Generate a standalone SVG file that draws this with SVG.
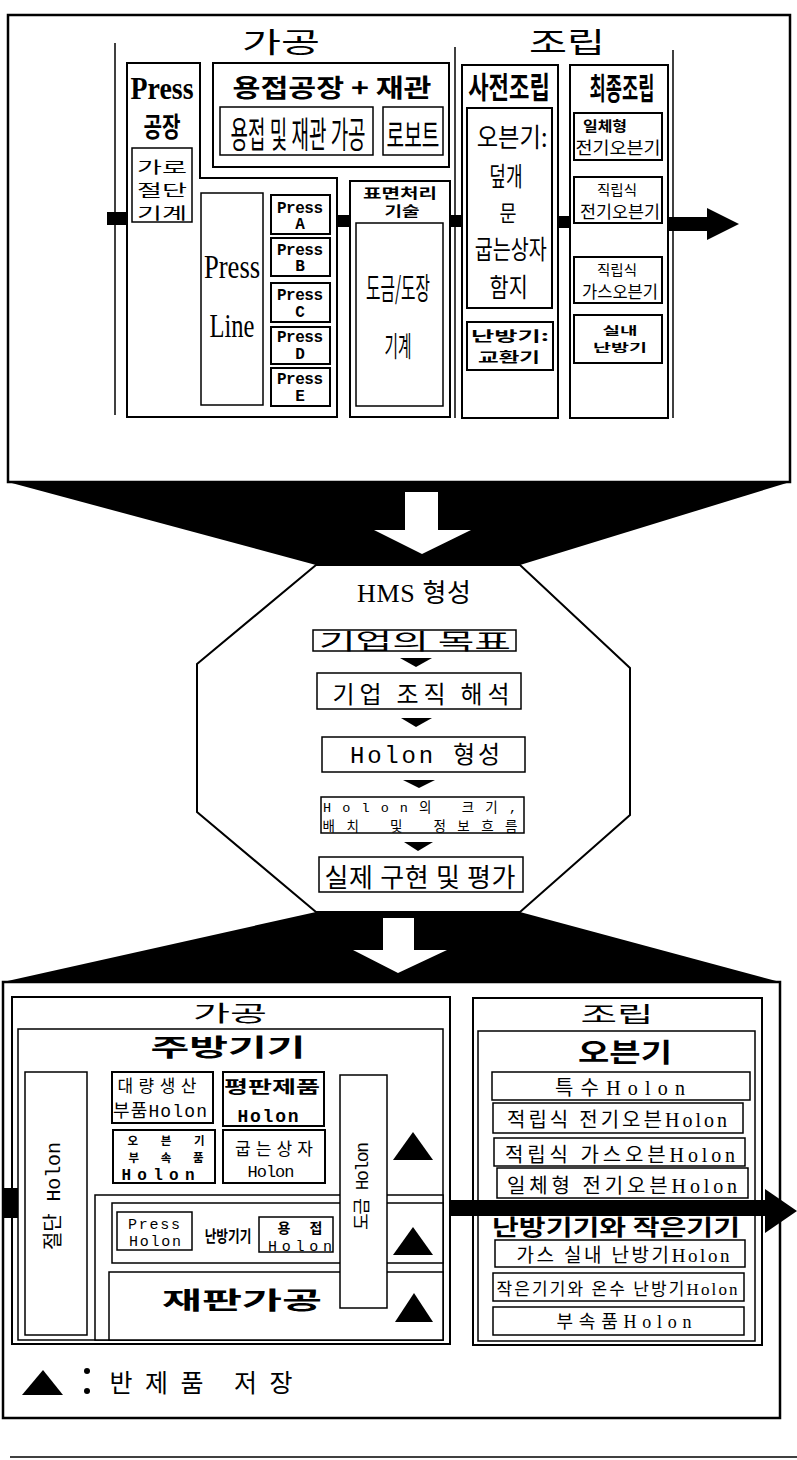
<svg xmlns="http://www.w3.org/2000/svg" width="797" height="1460" viewBox="0 0 797 1460">
<style>
.ob{fill:#fff;stroke:#000;stroke-width:2.5}
.bx{fill:#fff;stroke:#000;stroke-width:2}
.tb{fill:#fff;stroke:#000;stroke-width:1.5}
.ln{fill:none;stroke:#000;stroke-width:1.5}
.f{fill:#000;stroke:none}
.w{fill:#fff;stroke:none}
.k{font-family:"Noto Sans CJK KR",sans-serif;font-weight:normal;fill:#000;text-anchor:middle}
.kb{font-family:"Noto Sans CJK KR",sans-serif;font-weight:bold;fill:#000;text-anchor:middle}
.sf{font-family:"Liberation Serif","Noto Sans CJK KR",serif;font-weight:normal;fill:#000;text-anchor:middle}
.mo{font-family:"Liberation Mono","Noto Sans CJK KR",monospace;font-weight:normal;fill:#000;text-anchor:middle}
.b{font-weight:bold}
</style>

<!-- ================= TOP SECTION ================= -->
<g id="top-frame">
  <rect class="ob" x="8" y="15" width="782" height="467"/>
  <line class="ln" x1="115" y1="43" x2="115" y2="415"/>
  <line class="ln" x1="455" y1="47" x2="455" y2="418"/>
  <line class="ln" x1="673" y1="50" x2="673" y2="418"/>
  <text class="k" x="281" y="53" font-size="28" textLength="78" lengthAdjust="spacingAndGlyphs">가공</text>
  <text class="k" x="567" y="53" font-size="28" textLength="76" lengthAdjust="spacingAndGlyphs">조립</text>
</g>

<g id="press-factory">
  <polygon class="bx" points="127,63 200,63 200,178 337,178 337,417 127,417"/>
  <text class="kb" transform="translate(162,0) scale(0.7,1)"><tspan class="sf b" x="0" y="99" font-size="32" textLength="90" lengthAdjust="spacingAndGlyphs">Press</tspan><tspan class="kb" x="0" y="137" font-size="27" textLength="53" lengthAdjust="spacingAndGlyphs">공장</tspan></text>
  <rect class="tb" x="132" y="148" width="60" height="74"/>
  <text class="k" font-size="16"><tspan x="162" y="173" textLength="50" lengthAdjust="spacingAndGlyphs">가로</tspan><tspan x="162" y="196" textLength="50" lengthAdjust="spacingAndGlyphs">절단</tspan><tspan x="162" y="219" textLength="50" lengthAdjust="spacingAndGlyphs">기계</tspan></text>
</g>

<g id="welding-factory">
  <rect class="bx" x="213" y="63" width="236" height="104"/>
  <text class="kb" x="332" y="97" font-size="25" textLength="199" lengthAdjust="spacingAndGlyphs">용접공장 + 재관</text>
  <rect class="tb" x="220" y="107" width="153" height="48"/>
  <text class="k" transform="translate(298,148) scale(0.49,1)" x="0" y="0" font-size="36" textLength="276" lengthAdjust="spacingAndGlyphs">용접 및 재관 가공</text>
  <rect class="tb" x="383" y="107" width="60" height="48"/>
  <text class="k" transform="translate(413,147) scale(0.55,1)" x="0" y="0" font-size="32" textLength="96" lengthAdjust="spacingAndGlyphs">로보트</text>
</g>

<g id="press-line">
  <rect class="tb" x="201" y="193" width="62" height="212"/>
  <text class="sf" transform="translate(232,0) scale(0.75,1)" font-size="34"><tspan x="0" y="278" textLength="75" lengthAdjust="spacingAndGlyphs">Press</tspan><tspan x="0" y="337" textLength="60" lengthAdjust="spacingAndGlyphs">Line</tspan></text>
</g>

<g id="press-a">
  <rect class="bx" x="271" y="195" width="59" height="39"/>
  <text class="mo b" font-size="16"><tspan x="300" y="213" textLength="46">Press</tspan><tspan x="300" y="229">A</tspan></text>
</g>
<g id="press-b">
  <rect class="bx" x="271" y="238" width="59" height="38"/>
  <text class="mo b" font-size="16"><tspan x="300" y="255" textLength="46">Press</tspan><tspan x="300" y="271">B</tspan></text>
</g>
<g id="press-c">
  <rect class="bx" x="271" y="283" width="59" height="39"/>
  <text class="mo b" font-size="16"><tspan x="300" y="300" textLength="46">Press</tspan><tspan x="300" y="317">C</tspan></text>
</g>
<g id="press-d">
  <rect class="bx" x="271" y="327" width="59" height="37"/>
  <text class="mo b" font-size="16"><tspan x="300" y="342" textLength="46">Press</tspan><tspan x="300" y="359">D</tspan></text>
</g>
<g id="press-e">
  <rect class="bx" x="271" y="368" width="59" height="38"/>
  <text class="mo b" font-size="16"><tspan x="300" y="384" textLength="46">Press</tspan><tspan x="300" y="401">E</tspan></text>
</g>

<g id="surface-treatment">
  <rect class="bx" x="350" y="181" width="100" height="236"/>
  <text class="kb" font-size="13.5"><tspan x="400" y="198" textLength="74" lengthAdjust="spacingAndGlyphs">표면처리</tspan><tspan x="402" y="216" textLength="35" lengthAdjust="spacingAndGlyphs">기술</tspan></text>
  <rect class="tb" x="356" y="223" width="87" height="183"/>
  <text class="k" transform="translate(398,0) scale(0.5,1)"><tspan x="0" y="299" font-size="30" textLength="128" lengthAdjust="spacingAndGlyphs">도금/도장</tspan><tspan x="0" y="357" font-size="28" textLength="54" lengthAdjust="spacingAndGlyphs">기계</tspan></text>
</g>

<g id="pre-assembly">
  <rect class="bx" x="462" y="65" width="96" height="353"/>
  <text class="kb" transform="translate(509,98) scale(0.68,1)" x="0" y="0" font-size="30" textLength="120" lengthAdjust="spacingAndGlyphs">사전조립</text>
  <rect class="bx" x="467" y="108" width="85" height="200"/>
  <text class="k" transform="translate(510,0) scale(0.68,1)" font-size="26"><tspan x="3" y="147" textLength="104" lengthAdjust="spacingAndGlyphs">오븐기:</tspan><tspan x="-6" y="186" textLength="49" lengthAdjust="spacingAndGlyphs">덮개</tspan><tspan x="-3" y="221" font-size="22" textLength="25" lengthAdjust="spacingAndGlyphs">문</tspan><tspan x="1" y="259" textLength="106" lengthAdjust="spacingAndGlyphs">굽는상자</tspan><tspan x="-2" y="297" textLength="56" lengthAdjust="spacingAndGlyphs">함지</tspan></text>
  <rect class="bx" x="467" y="322" width="86" height="48"/>
  <text class="kb" font-size="14"><tspan x="510" y="341" textLength="78" lengthAdjust="spacingAndGlyphs">난방기:</tspan><tspan x="509" y="362" textLength="62" lengthAdjust="spacingAndGlyphs">교환기</tspan></text>
</g>

<g id="final-assembly">
  <rect class="bx" x="570" y="65" width="98" height="353"/>
  <text class="kb" transform="translate(622,99) scale(0.54,1)" x="0" y="0" font-size="30" textLength="120" lengthAdjust="spacingAndGlyphs">최종조립</text>
  <rect class="bx" x="574" y="113" width="88" height="47"/>
  <text class="k"><tspan class="kb" x="605" y="131" font-size="14" textLength="44" lengthAdjust="spacingAndGlyphs">일체형</tspan><tspan class="k" x="618" y="154" font-size="17" textLength="85" lengthAdjust="spacingAndGlyphs">전기오븐기</tspan></text>
  <rect class="bx" x="574" y="177" width="88" height="46"/>
  <text class="k"><tspan x="617" y="195" font-size="14" textLength="40" lengthAdjust="spacingAndGlyphs">직립식</tspan><tspan x="620" y="218" font-size="17" textLength="80" lengthAdjust="spacingAndGlyphs">전기오븐기</tspan></text>
  <rect class="bx" x="574" y="257" width="88" height="46"/>
  <text class="k"><tspan x="617" y="275" font-size="14" textLength="40" lengthAdjust="spacingAndGlyphs">직립식</tspan><tspan x="620" y="298" font-size="17" textLength="76" lengthAdjust="spacingAndGlyphs">가스오븐기</tspan></text>
  <rect class="bx" x="574" y="315" width="88" height="48"/>
  <text class="kb" font-size="11"><tspan x="620" y="335" textLength="35" lengthAdjust="spacingAndGlyphs">실내</tspan><tspan x="620" y="352" textLength="54" lengthAdjust="spacingAndGlyphs">난방기</tspan></text>
</g>

<!-- ================= MIDDLE (HMS) ================= -->
<g id="hms">
  <polygon class="bx" points="316,565 520,565 630,668 630,815 520,912 316,912 197,812 197,664"/>
  <text class="sf" x="414" y="602" font-size="26" textLength="114">HMS 형성</text>
</g>
<g id="goal">
  <rect class="tb" x="313" y="630" width="203" height="21"/>
  <text class="k" x="415" y="649" font-size="22" textLength="192" lengthAdjust="spacingAndGlyphs">기업의 목표</text>
</g>
<g id="org-analysis">
  <rect class="tb" x="317" y="673" width="204" height="36"/>
  <text class="k" x="421" y="703" font-size="24" textLength="177">기업 조직 해석</text>
</g>
<g id="holon-form">
  <rect class="tb" x="322" y="737" width="203" height="35"/>
  <text class="mo" x="425" y="763" font-size="24" textLength="150">Holon 형성</text>
</g>
<g id="holon-size">
  <rect class="tb" x="321" y="797" width="203" height="36"/>
  <text class="mo" font-size="13.5"><tspan x="420" y="812" textLength="194">Holon의  크기,</tspan><tspan x="420" y="831" textLength="195">배치 및 정보흐름</tspan></text>
</g>
<g id="implement">
  <rect class="tb" x="319" y="857" width="204" height="35"/>
  <text class="k" x="420" y="887" font-size="26" textLength="191">실제 구현 및 평가</text>
</g>

<!-- ================= BOTTOM SECTION ================= -->
<g id="bottom-frame">
  <rect class="ob" x="3" y="982" width="777" height="436"/>
</g>

<g id="processing">
  <rect class="bx" x="12" y="997" width="438" height="347"/>
  <text class="k" x="230" y="1021" font-size="22" textLength="74" lengthAdjust="spacingAndGlyphs">가공</text>
  <rect class="tb" x="18" y="1029" width="425" height="311"/>
  <text class="kb" x="228" y="1056" font-size="24" textLength="155" lengthAdjust="spacingAndGlyphs">주방기기</text>
  <rect class="tb" x="95" y="1195" width="348" height="145"/>
</g>

<g id="cut-holon">
  <rect class="tb" x="25" y="1072" width="62" height="263"/>
  <text class="mo" transform="translate(53,1196) rotate(-90)" x="0" y="7" font-size="20" textLength="108">절단 Holon</text>
</g>

<g id="mass-holon">
  <rect class="bx" x="112" y="1072" width="101" height="51"/>
  <text class="k"><tspan class="k" x="157" y="1092" font-size="17" textLength="79">대량생산</tspan><tspan class="mo" x="160" y="1117" font-size="18" textLength="94">부품Holon</tspan></text>
</g>
<g id="flat-holon">
  <rect class="bx" x="223" y="1072" width="101" height="54"/>
  <text class="kb"><tspan class="kb" x="272" y="1093" font-size="17" textLength="96" lengthAdjust="spacingAndGlyphs">평판제품</tspan><tspan class="mo b" x="268" y="1122" font-size="18" textLength="61">Holon</tspan></text>
</g>
<g id="oven-parts-holon">
  <rect class="bx" x="113" y="1130" width="102" height="53"/>
  <text class="kb"><tspan class="kb" x="166" y="1145" font-size="11.5" textLength="77">오븐기</tspan><tspan class="kb" x="166" y="1162" font-size="11.5" textLength="75">부속품</tspan><tspan class="mo b" x="158" y="1180" font-size="16" textLength="73">Holon</tspan></text>
</g>
<g id="bake-holon">
  <rect class="bx" x="223" y="1130" width="102" height="53"/>
  <text class="k"><tspan class="k" x="274" y="1155" font-size="17" textLength="78">굽는상자</tspan><tspan class="mo" x="271" y="1177" font-size="17" textLength="47">Holon</tspan></text>
</g>

<g id="heater">
  <rect class="tb" x="112" y="1203" width="331" height="60"/>
  <rect class="tb" x="117" y="1212" width="75" height="38"/>
  <text class="mo" font-size="15"><tspan x="154" y="1229" textLength="52">Press</tspan><tspan x="155" y="1246" textLength="52">Holon</tspan></text>
  <text class="kb" transform="translate(228,1242) scale(0.73,1)" x="0" y="0" font-size="16" textLength="64" lengthAdjust="spacingAndGlyphs">난방기기</text>
  <rect class="tb" x="259" y="1217" width="74" height="35"/>
  <text class="kb"><tspan class="kb" x="300" y="1233" font-size="14" textLength="45">용접</tspan><tspan class="mo" x="300" y="1251" font-size="15" textLength="64">Holon</tspan></text>
</g>

<g id="can-making">
  <rect class="tb" x="109" y="1272" width="334" height="68"/>
  <text class="kb" x="242" y="1309" font-size="24" textLength="160" lengthAdjust="spacingAndGlyphs">재판가공</text>
</g>

<g id="plating-holon">
  <rect class="tb" x="340" y="1075" width="47" height="233"/>
  <text class="mo" transform="translate(362,1186) rotate(-90)" x="0" y="6" font-size="18" textLength="88">도금 Holon</text>
</g>

<g id="storage-marks">
  <polygon class="f" points="393,1160 413,1132 433,1160"/>
  <polygon class="f" points="393,1255 413,1227 433,1255"/>
  <polygon class="f" points="395,1322 414,1293 433,1322"/>
</g>

<g id="assembly">
  <rect class="bx" x="473" y="998" width="289" height="347"/>
  <text class="k" x="617" y="1022" font-size="22" textLength="73" lengthAdjust="spacingAndGlyphs">조립</text>
  <rect class="tb" x="478" y="1031" width="277" height="310"/>
  <text class="kb" x="625" y="1062" font-size="26" textLength="94" lengthAdjust="spacingAndGlyphs">오븐기</text>
  <rect class="tb" x="492" y="1072" width="258" height="28"/>
  <text class="sf" x="620" y="1095" font-size="20" textLength="130">특수Holon</text>
  <rect class="tb" x="493" y="1103" width="250" height="30"/>
  <text class="sf" x="617" y="1127" font-size="20" textLength="220">적립식 전기오븐Holon</text>
  <rect class="tb" x="494" y="1138" width="251" height="28"/>
  <text class="sf" x="620" y="1162" font-size="20" textLength="230">적립식 가스오븐Holon</text>
  <rect class="tb" x="497" y="1168" width="251" height="30"/>
  <text class="sf" x="622" y="1193" font-size="20" textLength="230">일체형 전기오븐Holon</text>
  <text class="kb" x="616" y="1235" font-size="22" textLength="248" lengthAdjust="spacingAndGlyphs">난방기기와 작은기기</text>
  <rect class="tb" x="495" y="1240" width="250" height="27"/>
  <text class="sf" x="623" y="1262" font-size="19" textLength="213">가스 실내 난방기Holon</text>
  <rect class="tb" x="493" y="1273" width="251" height="28"/>
  <text class="sf" x="617" y="1295" font-size="17" textLength="241">작은기기와 온수 난방기Holon</text>
  <rect class="tb" x="493" y="1307" width="251" height="28"/>
  <text class="sf" x="624" y="1328" font-size="18" textLength="135">부속품Holon</text>
</g>

<g id="legend">
  <polygon class="f" points="22,1395 43,1370 63,1395"/>
  <circle class="f" cx="87" cy="1371" r="3"/>
  <circle class="f" cx="87" cy="1391" r="3"/>
  <text class="k" x="201" y="1392" font-size="25" textLength="183">반제품 저장</text>
</g>

<line class="ln" x1="10" y1="1457" x2="797" y2="1457"/>

<!-- ================= CONNECTORS ================= -->
<g id="connectors">
  <rect class="f" x="107" y="212" width="20" height="13"/>
  <rect class="f" x="338" y="215" width="12" height="12"/>
  <rect class="f" x="450" y="215" width="12" height="12"/>
  <rect class="f" x="558" y="216" width="12" height="12"/>
  <polygon class="f" points="668,217 707,217 707,208 739,224 707,240 707,231 668,231"/>
  <polygon class="f" points="8,482 790,482 520,565 316,565"/>
  <polygon class="w" points="405,492 438,492 438,530 471,530 422,554 374,530 405,530"/>
  <polygon class="f" points="400,658 432,658 416,667"/>
  <polygon class="f" points="401,718 432,718 416,727"/>
  <polygon class="f" points="403,780 435,780 419,788"/>
  <polygon class="f" points="404,842 433,842 418,851"/>
  <polygon class="f" points="316,912 520,912 780,982 3,982"/>
  <polygon class="w" points="383,918 414,918 414,950 447,950 398,973 353,950 383,950"/>
  <rect class="f" x="2" y="1188" width="16" height="30"/>
  <polygon class="f" points="450,1200 765,1200 765,1189 797,1211 765,1233 765,1216 450,1216"/>
</g>
</svg>
